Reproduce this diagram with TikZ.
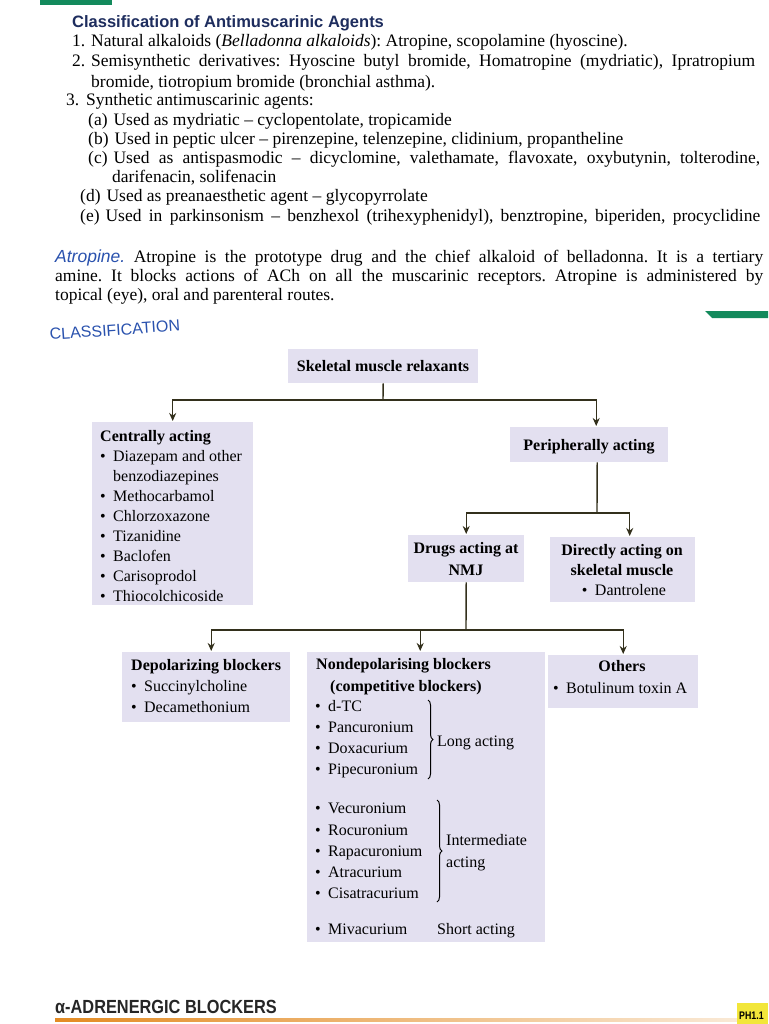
\documentclass[tikz,border=0pt]{standalone}
\usepackage{fontspec}
\usepackage{graphicx}
\setmainfont{Liberation Serif}
\newfontfamily\hsans{Liberation Sans}
\usetikzlibrary{arrows.meta,decorations.pathreplacing}
\definecolor{boxfill}{HTML}{E3E0F0}
\definecolor{navy}{HTML}{1E2D5E}
\definecolor{hblue}{HTML}{2A52AE}
\definecolor{lineclr}{HTML}{33301C}
\definecolor{pagegreen}{HTML}{138A5C}
\definecolor{pageorange}{HTML}{E38B23}
\definecolor{tabyellow}{HTML}{F2E63A}
\newcommand{\bul}{\makebox[13pt][l]{\textbullet}}
\frenchspacing
\begin{document}
\begin{tikzpicture}[x=1pt,y=-1pt,
 txt/.style={anchor=base west, inner sep=0pt, font=\fontsize{17.5}{20}\selectfont},
 tr/.style={anchor=base west, inner sep=0pt, font=\fontsize{16}{19}\selectfont},
 trb/.style={anchor=base west, inner sep=0pt, font=\fontsize{16}{19}\selectfont\bfseries},
 trc/.style={anchor=base, inner sep=0pt, font=\fontsize{16}{19}\selectfont},
 trcb/.style={anchor=base, inner sep=0pt, font=\fontsize{16}{19}\selectfont\bfseries},
 box/.style={fill=boxfill, draw=none, anchor=north west, inner sep=0pt},
 conn/.style={draw=lineclr, line width=1.4pt},
 arr/.style={conn, -{Stealth[length=8pt,width=7pt]}, shorten >=1pt},
 brc/.style={draw=black, line width=1pt, decorate, decoration={brace, amplitude=5pt}}]
\useasboundingbox (0,0) rectangle (768,1024);
\fill[white] (0,0) rectangle (768,1024);
% page decorations
\fill[pagegreen] (40,0) rectangle (112,5);
\fill[pagegreen] (705,311) -- (768,311) -- (768,318) -- (712,318) -- cycle;
\shade[left color=pageorange, right color=pageorange!15] (55,1018) rectangle (768,1021);
\fill[tabyellow] (737,1003) rectangle (768,1024);
\node[anchor=base west, inner sep=0pt, font=\fontsize{11}{13}\hsans\bfseries] (ph) at (739,1019) {\scalebox{0.8}[1]{PH1.1}};

% top text
\node[txt, font=\fontsize{16.5}{19}\hsans\bfseries, text=navy] (title) at (72,28) {Classification of Antimuscarinic Agents};
\node[txt] (n1) at (72,47) {1.};
\node[txt] (l1) at (91,47) {Natural alkaloids (\textit{Belladonna alkaloids}): Atropine, scopolamine (hyoscine).};
\node[txt] (n2) at (72,67) {2.};
\node[txt] (l2) at (91,67) {\makebox[664pt][s]{Semisynthetic derivatives: Hyoscine butyl bromide, Homatropine (mydriatic), Ipratropium}};
\node[txt] (l2b) at (91,88) {bromide, tiotropium bromide (bronchial asthma).};
\node[txt] (n3) at (66,106) {3.};
\node[txt] (l3) at (86,106) {Synthetic antimuscarinic agents:};
\node[txt] (la) at (88,126) {(a)\hspace{6pt}Used as mydriatic -- cyclopentolate, tropicamide};
\node[txt] (lb) at (88,145) {(b)\hspace{6pt}Used in peptic ulcer -- pirenzepine, telenzepine, clidinium, propantheline};
\node[txt] (lc) at (88,164) {\makebox[672pt][s]{(c)\hspace{6pt}Used as antispasmodic -- dicyclomine, valethamate, flavoxate, oxybutynin, tolterodine,}};
\node[txt] (lc2) at (112,183) {darifenacin, solifenacin};
\node[txt] (ld) at (80,202) {(d)\hspace{6pt}Used as preanaesthetic agent -- glycopyrrolate};
\node[txt] (le) at (80,222) {\makebox[680pt][s]{(e)\hspace{6pt}Used in parkinsonism -- benzhexol (trihexyphenidyl), benztropine, biperiden, procyclidine}};

\node[txt] (p1) at (55,262) {\makebox[708pt][s]{{\color{hblue}\hsans\itshape Atropine.} Atropine is the prototype drug and the chief alkaloid of belladonna. It is a tertiary}};
\node[txt] (p2) at (55,281) {\makebox[708pt][s]{amine. It blocks actions of ACh on all the muscarinic receptors. Atropine is administered by}};
\node[txt] (p3) at (55,300) {topical (eye), oral and parenteral routes.};

\node[anchor=base west, inner sep=0pt, font=\fontsize{16}{18}\hsans, text=hblue, rotate=4] (cls) at (50,340) {CLASSIFICATION};

% boxes
\node[box, minimum width=190pt, minimum height=34pt] (skm) at (288,349) {};
\node[box, minimum width=161pt, minimum height=183pt] (cen) at (92,422) {};
\node[box, minimum width=158pt, minimum height=35pt] (per) at (510,427) {};
\node[box, minimum width=116pt, minimum height=47pt] (nmj) at (408,535) {};
\node[box, minimum width=145pt, minimum height=65pt] (dir) at (550,537) {};
\node[box, minimum width=168pt, minimum height=70pt] (dep) at (122,652) {};
\node[box, minimum width=238pt, minimum height=290pt] (nd) at (307,652) {};
\node[box, minimum width=150pt, minimum height=53pt] (oth) at (548,655) {};

% box texts
\node[trcb] (skmt) at (383,371) {Skeletal muscle relaxants};

\node[trb] (c0) at (100,441) {Centrally acting};
\node[tr] (c1) at (100,461) {\bul Diazepam and other};
\node[tr] (c1b) at (113,481) {benzodiazepines};
\node[tr] (c2) at (100,501) {\bul Methocarbamol};
\node[tr] (c3) at (100,521) {\bul Chlorzoxazone};
\node[tr] (c4) at (100,541) {\bul Tizanidine};
\node[tr] (c5) at (100,561) {\bul Baclofen};
\node[tr] (c6) at (100,581) {\bul Carisoprodol};
\node[tr] (c7) at (100,601) {\bul Thiocolchicoside};

\node[trcb] (pert) at (589,450) {Peripherally acting};

\node[trcb] (nmj1) at (466,553) {Drugs acting at};
\node[trcb] (nmj2) at (466,575) {NMJ};

\node[trcb] (dir1) at (622,555) {Directly acting on};
\node[trcb] (dir2) at (622,575) {skeletal muscle};
\node[trc] (dir3) at (624,595) {\bul Dantrolene};

\node[trb] (d0) at (131,670) {Depolarizing blockers};
\node[tr] (d1) at (131,691) {\bul Succinylcholine};
\node[tr] (d2) at (131,712) {\bul Decamethonium};

\node[trb] (nd0) at (316,669) {Nondepolarising blockers};
\node[trb] (nd0b) at (330,691) {(competitive blockers)};
\node[tr] (nd1) at (315,711) {\bul d-TC};
\node[tr] (nd2) at (315,732) {\bul Pancuronium};
\node[tr] (nd3) at (315,753) {\bul Doxacurium};
\node[tr] (nd4) at (315,774) {\bul Pipecuronium};
\node[tr] (nd5) at (315,813) {\bul Vecuronium};
\node[tr] (nd6) at (315,835) {\bul Rocuronium};
\node[tr] (nd7) at (315,856) {\bul Rapacuronium};
\node[tr] (nd8) at (315,877) {\bul Atracurium};
\node[tr] (nd9) at (315,898) {\bul Cisatracurium};
\node[tr] (nd10) at (315,934) {\bul Mivacurium};
\node[tr] (la1) at (437,746) {Long acting};
\node[tr] (ia1) at (446,845) {Intermediate};
\node[tr] (ia2) at (446,867) {acting};
\node[tr] (sa1) at (437,934) {Short acting};
\draw[brc] (428,700) -- (428,779);
\draw[brc] (437,800) -- (437,902);

\node[trcb] (o0) at (622,671) {Others};
\node[tr] (o1) at (553,693) {\bul Botulinum toxin A};

% connectors
\coordinate (j1) at (383,400);
\draw[conn] (skm.south) -- (j1);
\draw[arr] (j1) -| (cen.north);
\draw[arr] (j1) -| ([xshift=7pt]per.north);
\coordinate (j2) at (597,513);
\draw[conn] ([xshift=8pt]per.south) -- (j2);
\draw[arr] (j2) -| (nmj.north);
\draw[arr] (j2) -| ([xshift=7pt]dir.north);
\coordinate (j3) at (466,630);
\draw[conn] (nmj.south) -- (j3);
\draw[arr] (j3) -| ([xshift=5pt]dep.north);
\draw[arr] (j3) -| ([xshift=-6pt]nd.north);
\draw[arr] (j3) -| (oth.north);

% bottom heading
\node[anchor=base west, inner sep=0pt, font=\fontsize{19}{22}\hsans\bfseries, text=black!85] (alpha) at (55,1013) {\scalebox{0.86}[1]{α-ADRENERGIC BLOCKERS}};
\end{tikzpicture}
\end{document}
